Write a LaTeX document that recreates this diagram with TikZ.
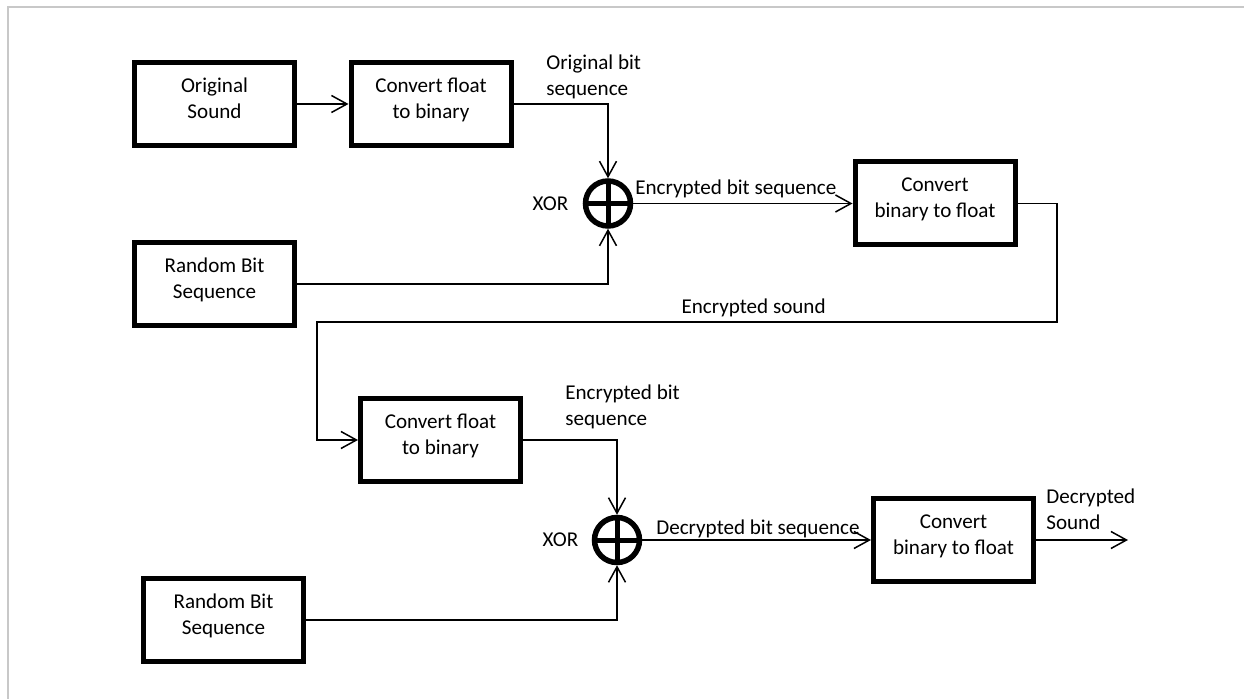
\documentclass[tikz,border=0pt]{standalone}
\usepackage{fontspec}
\setmainfont{Carlito}
\usepackage{tikz}
\usetikzlibrary{positioning, arrows.meta, calc}
\definecolor{framegray}{RGB}{200, 200, 200}

\begin{document}
\begin{tikzpicture}[
      every node/.style={font=\fontsize{12}{14.8}\selectfont},
      block/.style={draw, line width=0.1cm, align=center, text depth=6.5pt,
        minimum width=3.2cm, minimum height=1.66cm, inner sep=2pt},
      xorgate/.style={draw, circle, line width=0.11cm, minimum size=0.9cm,
        inner sep=0pt,
        path picture={\draw[line width=0.1cm]
          (path picture bounding box.north) -- (path picture bounding box.south)
          (path picture bounding box.west) -- (path picture bounding box.east);}},
      lbl/.style={inner sep=0pt, align=left},
      arr/.style={-{Straight Barb[length=3.1mm, width=3.4mm]}, line width=0.03cm},
      wire/.style={line width=0.03cm}
    ]
    \useasboundingbox (0,0) rectangle (24.88,-13.98);
    \draw[framegray, line width=0.04cm] (0.16,-13.98) -- (0.16,-0.14) -- (24.88,-0.14);

    % encryption
    \node[block] (orig) at (4.29,-2.08) {Original\\Sound};
    \node[block] (conv1) at (8.62,-2.08) {Convert float\\to binary};
    \node[block] (rand1) at (4.29,-5.68) {Random Bit\\Sequence};
    \node[xorgate] (xor1) at (12.16,-4.07) {};
    \node[block] (bin1) at (18.70,-4.07) {Convert\\binary to float};

    \node[lbl, anchor=west] (origbits) at (10.92,-1.54) {Original bit\\sequence};
    \node[lbl] (xorlbl1) at (11.01,-4.08) {XOR};
    \node[lbl, anchor=west] (encbits) at (12.70,-3.78) {Encrypted bit sequence};

    \draw[arr] (orig) -- (conv1);
    \draw[arr] (conv1.east) -| (xor1.north);
    \draw[arr] (rand1.east) -| (xor1.south);
    \draw[arr] (xor1) -- (bin1);

    % feedback of the encrypted sound
    \coordinate (loopR) at (21.14,-6.44);
    \coordinate (loopL) at (6.34,-6.44);

    % decryption
    \node[block] (conv2) at (8.81,-8.80) {Convert float\\to binary};
    \node[xorgate] (xor2) at (12.34,-10.80) {};
    \node[block] (rand2) at (4.47,-12.40) {Random Bit\\Sequence};
    \node[block] (bin2) at (19.07,-10.80) {Convert\\binary to float};
    \coordinate (out) at (22.56,-10.80);

    \node[lbl, anchor=west] (encbits2) at (11.30,-8.13) {Encrypted bit\\sequence};
    \node[lbl] (xorlbl2) at (11.21,-10.80) {XOR};
    \node[lbl, anchor=west] (decbits) at (13.12,-10.57) {Decrypted bit sequence};
    \node[lbl, anchor=west] (decsound) at (20.92,-10.18) {Decrypted\\Sound};

    \draw[arr] (bin1.east) -| (loopR) -- node[pos=0.41, above=-1pt] {Encrypted sound} (loopL) |- (conv2.west);
    \draw[arr] (conv2.east) -| (xor2.north);
    \draw[arr] (rand2.east) -| (xor2.south);
    \draw[arr] (xor2) -- (bin2);
    \draw[arr] (bin2) -- (out);
  \end{tikzpicture}
\end{document}
